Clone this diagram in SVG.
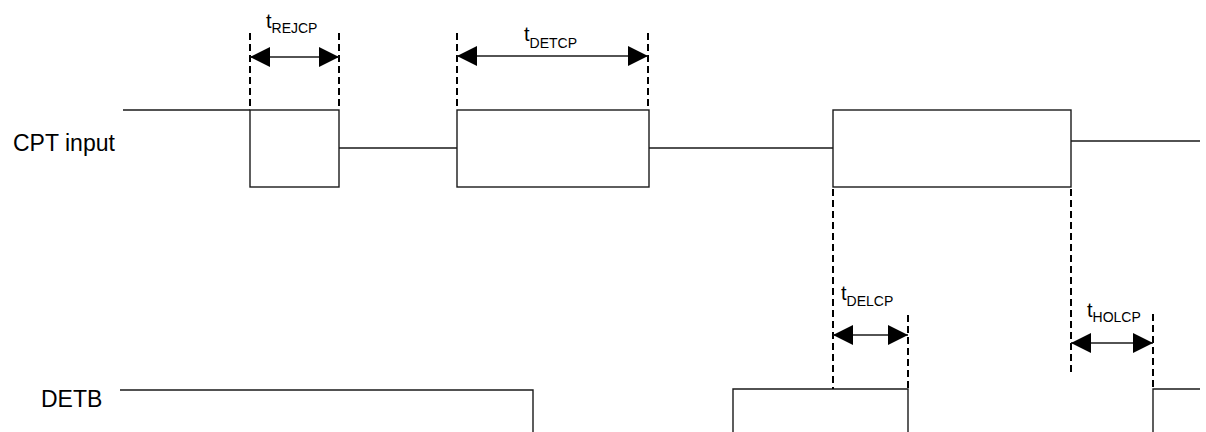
<svg xmlns="http://www.w3.org/2000/svg" width="1206" height="432" viewBox="0 0 1206 432">
<style>
.sig{fill:none;stroke:#1a1a1a;stroke-width:1.4}
.dash{fill:none;stroke:#000;stroke-width:2;stroke-dasharray:7,4}
.dim{stroke:#1a1a1a;stroke-width:1.5;marker-start:url(#ah);marker-end:url(#ah)}
.lbl{font-family:"Liberation Sans",Arial,sans-serif;font-size:23px;fill:#000}
.t{font-family:"Liberation Sans",Arial,sans-serif;font-size:20px;fill:#000}
.sub{font-size:14px}
</style>
<defs>
<marker id="ah" viewBox="0 0 20 20" refX="20" refY="10" markerWidth="20" markerHeight="20" markerUnits="userSpaceOnUse" orient="auto-start-reverse">
<path d="M0,0 L20,10 L0,20 Z" fill="#000"/>
</marker>
</defs>
<rect width="1206" height="432" fill="#fff"/>
<g id="labels">
<text class="lbl" x="13" y="151">CPT input</text>
<text class="lbl" x="41" y="407">DETB</text>
</g>
<g id="cpt-input">
<path class="sig" d="M123,110 H250 M339,148 H457 M649,148 H833 M1071,141 H1200"/>
<rect class="sig" x="250" y="110" width="89" height="77"/>
<rect class="sig" x="457" y="110" width="192" height="77"/>
<rect class="sig" x="833" y="110" width="238" height="77"/>
</g>
<g id="detb">
<path class="sig" d="M120,390 H533 V432 M733,432 V389 H908 V432 M1153,432 V389 H1200"/>
</g>
<g id="connectors">
<path class="dash" d="M250,33 V110 M339,33 V110 M457,33 V110 M648,33 V110 M833,189 V389 M1071,189 V373 M908,315 V389 M1153,314 V389"/>
<line class="dim" x1="250" y1="57" x2="339" y2="57"/>
<line class="dim" x1="457" y1="56" x2="648" y2="56"/>
<line class="dim" x1="833" y1="335" x2="908" y2="335"/>
<line class="dim" x1="1071" y1="343" x2="1153" y2="343"/>
</g>
<g id="timing-labels">
<text class="t" x="266" y="28">t<tspan class="sub" dy="5">REJCP</tspan></text>
<text class="t" x="524" y="41">t<tspan class="sub" dy="7">DETCP</tspan></text>
<text class="t" x="841" y="300">t<tspan class="sub" dy="6">DELCP</tspan></text>
<text class="t" x="1087" y="317">t<tspan class="sub" dy="5">HOLCP</tspan></text>
</g>
</svg>
